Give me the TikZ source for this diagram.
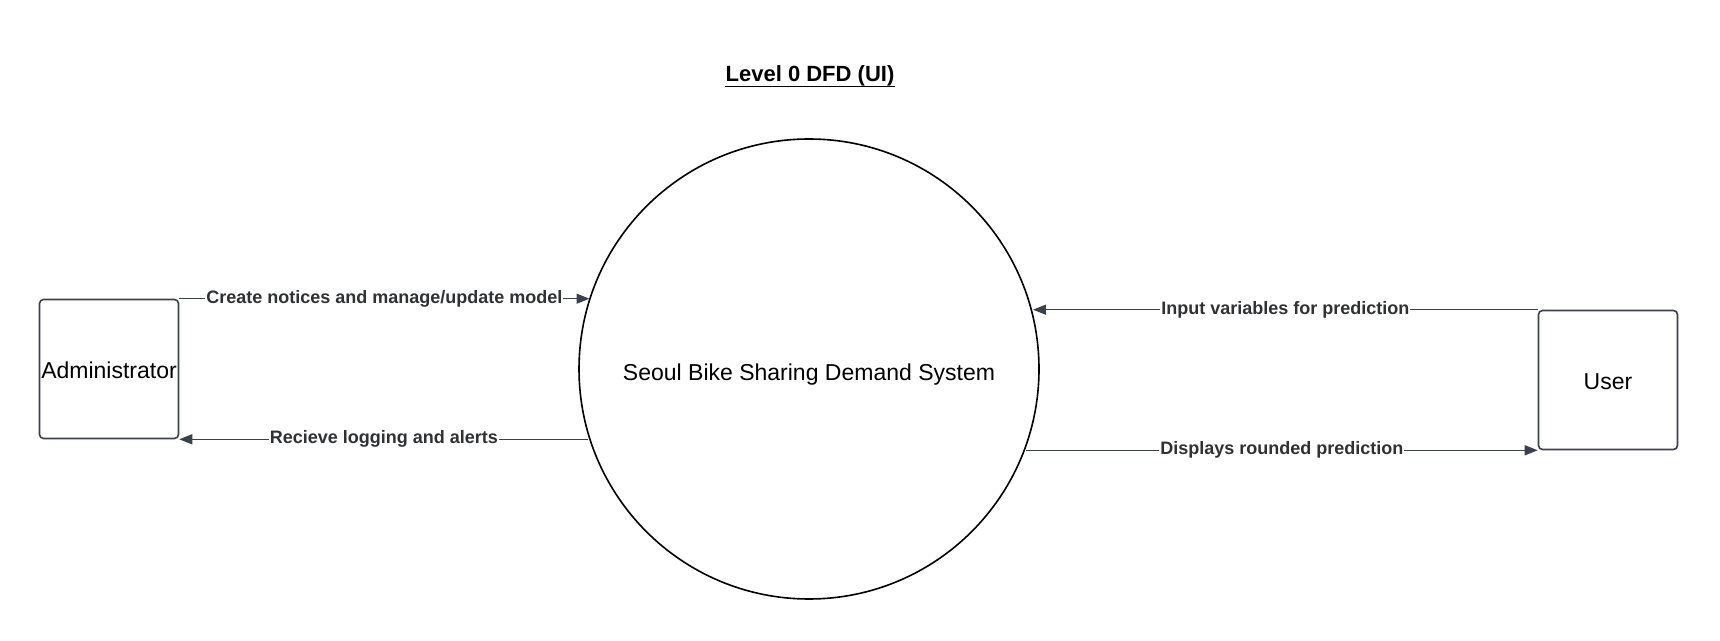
\documentclass[tikz,border=0pt]{standalone}
\usepackage{fontspec}
\setmainfont{Liberation Sans}
\usetikzlibrary{arrows.meta,positioning}
\definecolor{edgegray}{HTML}{3B414B}
\definecolor{labelgray}{HTML}{2F3133}
\tikzset{
  entity/.style={draw=edgegray,line width=1.6pt,rounded corners=4pt,minimum width=139pt,minimum height=139pt,inner sep=0pt,text height=20pt,text depth=0pt,font=\fontsize{23}{26}\selectfont},
  process/.style={draw=black,line width=1.6pt,circle,minimum size=460pt,inner sep=0pt,text height=24pt,text depth=0pt,font=\fontsize{23}{26}\selectfont},
  flow/.style={draw=edgegray,line width=1.3pt,-{Triangle[length=13pt,width=10pt]}},
  flowlabel/.style={fill=white,inner sep=1pt,text=labelgray,font=\bfseries\fontsize{18}{20}\selectfont},
}
\begin{document}
\begin{tikzpicture}[x=1pt,y=1pt]
  \useasboundingbox (0,0) rectangle (1720,640);
  % title
  \node[anchor=base,inner sep=0pt,font=\bfseries\fontsize{22}{24}\selectfont] (title) at (810,558.5) {Level 0 DFD (UI)};
  \draw[line width=1.6pt] ([yshift=-5pt]title.base west) -- ([yshift=-5pt]title.base east);
  % entities and process
  \node[process] (system) at (809,271) {Seoul Bike Sharing Demand System};
  \node[entity] (admin) at (109,271) {Administrator};
  \node[entity] (user) at (1608,260) {User};
  % data flows
  \draw[flow] (admin.north east) -- node[flowlabel] {Create notices and manage/update model} (admin.north east -| system.162.5);
  \draw[flow] (admin.south east -| system.197.5) -- node[flowlabel] {Recieve logging and alerts} (admin.south east);
  \draw[flow] (user.north west) -- node[flowlabel] {Input variables for prediction} (user.north west -| system.14.7);
  \draw[flow] (user.south west -| system.-20.4) -- node[flowlabel] {Displays rounded prediction} (user.south west);
\end{tikzpicture}
\end{document}
